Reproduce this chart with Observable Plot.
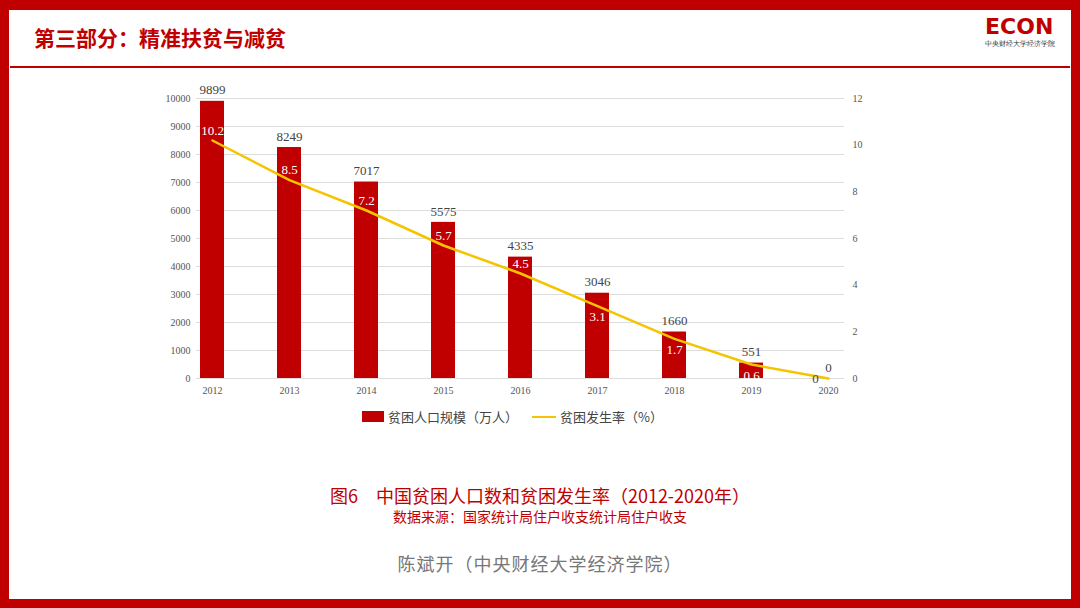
<!DOCTYPE html>
<html><head><meta charset="utf-8">
<script src="https://cdn.jsdelivr.net/npm/d3@7"></script>
<script src="https://cdn.jsdelivr.net/npm/@observablehq/plot@0.6"></script>
<style>
body{margin:0;width:1080px;height:608px;overflow:hidden;font-family:"Noto Sans CJK SC",sans-serif;background:#fff}
#frame{position:absolute;left:0;top:0;width:1080px;height:608px;box-sizing:border-box;border:9px solid #c00000;border-top-width:10px}
#hdr{position:absolute;left:34px;top:22px;font-size:21px;color:#c00000;font-weight:bold;font-family:"Noto Sans CJK SC"}
#hline{position:absolute;left:10px;right:10px;top:66px;height:2px;background:#c00000}
#logo{position:absolute;left:985px;top:14px;color:#c00000;font-weight:bold;font-size:22px;font-family:"DejaVu Sans"}
#chart{position:absolute;left:0;top:0}
.t{position:absolute;width:1080px;text-align:center;left:0}
#leg{position:absolute;top:407px;left:362px;font-size:13px;color:#444;display:flex;align-items:center}
</style></head><body>
<div id="frame"></div>
<div id="hdr">第三部分：精准扶贫与减贫</div>
<div id="hline"></div>
<div id="logo">ECON<div style="font-size:7px;color:#333;font-weight:normal">中央财经大学经济学院</div></div>
<div id="chart"></div>
<div id="leg"><span style="display:inline-block;width:22px;height:11px;background:#c00000;margin-right:4px"></span>贫困人口规模（万人）<span style="display:inline-block;width:24px;height:2px;background:#f5c400;margin:0 4px 0 14px"></span>贫困发生率（%）</div>
<div class="t" style="top:482px;font-size:18px;color:#c00000;font-family:'Noto Sans CJK SC'">图6　中国贫困人口数和贫困发生率（2012-2020年）</div>
<div class="t" style="top:506px;font-size:14px;color:#c00000">数据来源：国家统计局住户收支统计局住户收支</div>
<div class="t" style="top:550px;font-size:18px;color:#777;letter-spacing:1px">陈斌开（中央财经大学经济学院）</div>
<script>
const years=["2012","2013","2014","2015","2016","2017","2018","2019","2020"];
const population=[9899,8249,7017,5575,4335,3046,1660,551,0];
const rate=[10.2,8.5,7.2,5.7,4.5,3.1,1.7,0.6,0];
const leftTicks=[0,1000,2000,3000,4000,5000,6000,7000,8000,9000,10000];
const rightTicks=[0,2,4,6,8,10,12];
const k=10000/12;
const data=years.map((y,i)=>({year:y,pop:population[i],rate:rate[i],r:rate[i]*k}));
const svg=Plot.plot({
 width:1080,height:400,marginTop:98,marginBottom:22,marginLeft:196,marginRight:236,
 style:{fontFamily:"Liberation Serif",fontSize:"10px",color:"#555",background:"transparent"},
 x:{domain:years,padding:0.69,paddingOuter:0,label:null},
 y:{domain:[0,10000],label:null},
 marks:[
  Plot.gridY(leftTicks,{stroke:"#ddd",strokeOpacity:1}),
  Plot.axisX({tickSize:0,tickPadding:8,fontSize:10}),
  Plot.axisY({ticks:leftTicks,tickFormat:d=>String(d),tickSize:0,tickPadding:6,label:null}),
  Plot.axisY({anchor:"right",ticks:rightTicks.map(d=>d*k),tickFormat:d=>String(Math.round(d/k)),tickSize:0,tickPadding:8,label:null}),
  Plot.barY(data,{x:"year",y:"pop",fill:"#c00000"}),
  Plot.line(data,{x:"year",y:"r",stroke:"#f5c400",strokeWidth:2.5,curve:"linear"}),
  Plot.text(data,{x:"year",y:"pop",text:d=>String(d.pop),dy:-11,fontSize:13,fill:"#444"}),
  Plot.text(data.filter(d=>d.rate>=4),{x:"year",y:"r",text:d=>String(d.rate),dy:-10,fontSize:13,fill:"#fff"}),
  Plot.text(data.filter(d=>d.rate>0&&d.rate<4),{x:"year",y:"r",text:d=>String(d.rate),dy:11,fontSize:13,fill:"#fff"}),
  Plot.text(data.filter(d=>d.rate===0),{x:"year",y:"r",text:d=>String(d.rate),dx:-13,fontSize:13,fill:"#444"})
 ]});
document.getElementById("chart").appendChild(svg);
</script></body></html>
